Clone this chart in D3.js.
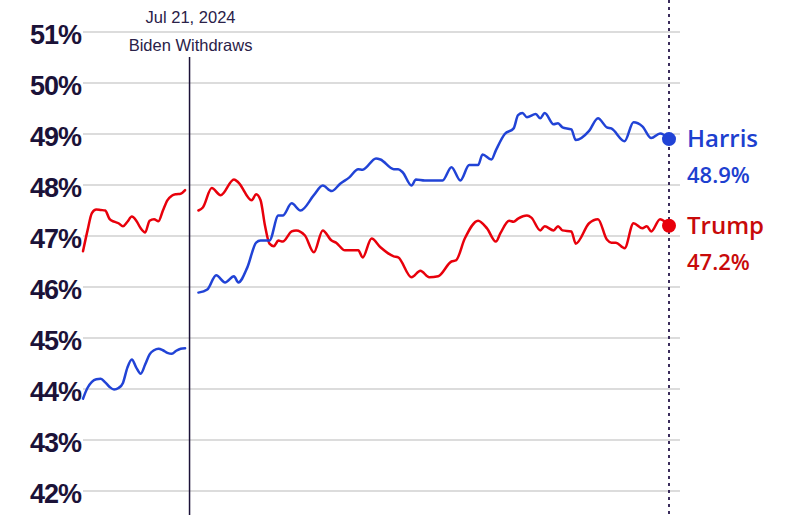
<!DOCTYPE html>
<html>
<head>
<meta charset="utf-8">
<script src="https://cdn.jsdelivr.net/npm/d3@7/dist/d3.min.js"></script>
<style>
  html, body { margin: 0; padding: 0; background: #fff; }
  svg { display: block; }
</style>
</head>
<body>
<svg id="chart" width="790" height="515"></svg>
<script>
// ---------- DATA ----------
const yTicks = [42, 43, 44, 45, 46, 47, 48, 49, 50, 51];
const xDomain = ["2024-06-27", "2024-11-06"];
const eventDate = "2024-07-21";
const eventLabels = ["Jul 21, 2024", "Biden Withdraws"];

// Before withdrawal: daily Jun 27 – Jul 20
const preStart = "2024-06-27";
const bidenPre = [43.81, 44.02, 44.14, 44.19, 44.20, 44.13, 44.04, 43.99, 44.02, 44.12, 44.42, 44.58,
                  44.42, 44.30, 44.48, 44.68, 44.76, 44.79, 44.76, 44.71, 44.69, 44.75, 44.79, 44.80];
const trumpPre = [46.70, 47.10, 47.45, 47.52, 47.51, 47.50, 47.33, 47.28, 47.25, 47.19, 47.28, 47.38,
                  47.30, 47.15, 47.07, 47.30, 47.33, 47.29, 47.50, 47.70, 47.79, 47.82, 47.83, 47.90];

// After withdrawal
const harrisDates = ["2024-07-23","2024-07-25","2024-07-27","2024-07-29","2024-07-31","2024-08-01","2024-08-03",
  "2024-08-05","2024-08-06","2024-08-08","2024-08-10","2024-08-11","2024-08-13","2024-08-15","2024-08-18",
  "2024-08-20","2024-08-22","2024-08-24","2024-08-26","2024-08-28","2024-08-29","2024-09-01","2024-09-02",
  "2024-09-05","2024-09-06","2024-09-07","2024-09-09","2024-09-10","2024-09-12","2024-09-16","2024-09-18",
  "2024-09-20","2024-09-22","2024-09-24","2024-09-25","2024-09-27","2024-09-28","2024-09-30","2024-10-02",
  "2024-10-03","2024-10-04","2024-10-05","2024-10-07","2024-10-08","2024-10-09","2024-10-11","2024-10-12",
  "2024-10-13","2024-10-15","2024-10-16","2024-10-19","2024-10-21","2024-10-23","2024-10-24","2024-10-27",
  "2024-10-29","2024-10-31","2024-11-02","2024-11-04","2024-11-06"];
const harrisValues = [45.89, 45.95, 46.23, 46.09, 46.21, 46.09, 46.38,
  46.87, 46.91, 46.91, 47.40, 47.40, 47.64, 47.50, 47.80,
  47.99, 47.88, 48.03, 48.15, 48.31, 48.30, 48.52, 48.50,
  48.31, 48.31, 48.25, 47.99, 48.11, 48.09, 48.09, 48.35,
  48.09, 48.39, 48.39, 48.60, 48.50, 48.68, 49.00, 49.11,
  49.37, 49.41, 49.33, 49.39, 49.31, 49.41, 49.19, 49.21,
  49.13, 49.09, 48.88, 49.06, 49.31, 49.13, 49.11, 48.86,
  49.23, 49.15, 48.92, 49.01, 48.90];

const trumpDates = ["2024-07-23","2024-07-24","2024-07-26","2024-07-28","2024-07-31","2024-08-01","2024-08-04",
  "2024-08-05","2024-08-06","2024-08-07","2024-08-08","2024-08-09","2024-08-10","2024-08-11","2024-08-13",
  "2024-08-14","2024-08-16","2024-08-18","2024-08-20","2024-08-22","2024-08-23","2024-08-25","2024-08-28",
  "2024-08-29","2024-08-31","2024-09-02","2024-09-05","2024-09-06","2024-09-09","2024-09-11","2024-09-13",
  "2024-09-15","2024-09-18","2024-09-19","2024-09-21","2024-09-24","2024-09-26","2024-09-28","2024-09-29",
  "2024-10-01","2024-10-02","2024-10-03","2024-10-05","2024-10-06","2024-10-08","2024-10-09","2024-10-11",
  "2024-10-12","2024-10-13","2024-10-15","2024-10-16","2024-10-19","2024-10-21","2024-10-23","2024-10-24",
  "2024-10-25","2024-10-27","2024-10-29","2024-10-31","2024-11-01","2024-11-02","2024-11-04","2024-11-06"];
const trumpValues = [47.50, 47.56, 47.94, 47.80, 48.11, 48.05, 47.70,
  47.82, 47.70, 47.20, 46.85, 46.80, 46.91, 46.89, 47.09,
  47.11, 47.01, 46.68, 47.11, 46.91, 46.87, 46.72, 46.72,
  46.58, 46.95, 46.78, 46.60, 46.58, 46.19, 46.32, 46.19,
  46.21, 46.50, 46.52, 46.95, 47.30, 47.15, 46.89, 47.05,
  47.30, 47.28, 47.34, 47.40, 47.36, 47.11, 47.19, 47.11,
  47.19, 47.11, 47.09, 46.85, 47.25, 47.33, 46.93, 46.87,
  46.87, 46.76, 47.25, 47.15, 47.19, 47.09, 47.33, 47.20];

const candidates = ["Harris", "Trump"];
const finalValues = [48.9, 47.2];

// ---------- STYLE ----------
const BLUE = "#2143d6", BLUE_TXT = "#1d40cf";
const RED = "#e8000b", RED_TXT = "#c80a0a";
const NAVY = "#1b1238";

const parse = d3.utcParse("%Y-%m-%d");
const svg = d3.select("#chart");

const x = d3.scaleUtc().domain(xDomain.map(parse)).range([83, 669]);
const y = d3.scaleLinear().domain([42, 51]).range([491, 32]);

// gridlines
svg.append("g").selectAll("line").data(yTicks).join("line")
  .attr("x1", 83).attr("x2", 680)
  .attr("y1", d => y(d)).attr("y2", d => y(d))
  .attr("stroke", "#dcdcdc").attr("stroke-width", 2);

// y axis labels
const yAxis = d3.axisLeft(y).tickValues(yTicks).tickFormat(d => d + "%").tickSize(0).tickPadding(0);
const ga = svg.append("g").attr("transform", "translate(81,0)").call(yAxis);
ga.select(".domain").remove();
ga.selectAll("text")
  .attr("dy", null).attr("y", 11)
  .attr("font-family", "'Liberation Sans', Arial, sans-serif")
  .attr("font-weight", "bold").attr("font-size", 27)
  .attr("letter-spacing", "-1px")
  .attr("fill", NAVY);

// event line
const ex = x(parse(eventDate));
svg.append("line").attr("x1", ex).attr("x2", ex).attr("y1", 57).attr("y2", 515)
  .attr("stroke", NAVY).attr("stroke-width", 1.5);
svg.append("g").selectAll("text").data(eventLabels).join("text")
  .attr("x", ex + 1).attr("y", (d, i) => i === 0 ? 23 : 51)
  .attr("text-anchor", "middle")
  .attr("font-family", "'Liberation Sans', Arial, sans-serif")
  .attr("font-size", 16.5).attr("fill", "#2a2148")
  .text(d => d);

// final date dotted line
const fx = x(parse(xDomain[1]));
svg.append("line").attr("x1", fx).attr("x2", fx).attr("y1", 0).attr("y2", 515)
  .attr("stroke", "#3b2d5c").attr("stroke-width", 2).attr("stroke-dasharray", "3,4");

// series
const line = d3.line().x(d => x(d[0])).y(d => y(d[1])).curve(d3.curveMonotoneX);
const preDates = bidenPre.map((_, i) => d3.utcDay.offset(parse(preStart), i));
const series = [
  { pts: preDates.map((d, i) => [d, trumpPre[i]]), color: RED },
  { pts: preDates.map((d, i) => [d, bidenPre[i]]), color: BLUE },
  { pts: trumpDates.map((d, i) => [parse(d), trumpValues[i]]), color: RED },
  { pts: harrisDates.map((d, i) => [parse(d), harrisValues[i]]), color: BLUE }
];
svg.append("g").selectAll("path").data(series).join("path")
  .attr("d", d => line(d.pts))
  .attr("fill", "none").attr("stroke", d => d.color)
  .attr("stroke-width", 2.5).attr("stroke-linejoin", "round").attr("stroke-linecap", "round");

// end dots & labels
const colors = [BLUE, RED], txtColors = [BLUE_TXT, RED_TXT];
svg.append("g").selectAll("circle").data(finalValues).join("circle")
  .attr("cx", fx).attr("cy", d => y(d)).attr("r", 7)
  .attr("fill", (d, i) => colors[i]);

const lab = svg.append("g").selectAll("g").data(candidates).join("g");
lab.append("text")
  .attr("x", 687).attr("y", (d, i) => y(finalValues[i]) + 8)
  .attr("font-family", "'Open Sans', 'Noto Sans', sans-serif").attr("font-weight", 600)
  .attr("font-size", 24).attr("fill", (d, i) => txtColors[i])
  .text(d => d);
lab.append("text")
  .attr("x", 687).attr("y", (d, i) => y(finalValues[i]) + 44)
  .attr("font-family", "'Open Sans', 'Noto Sans', sans-serif").attr("font-weight", 600)
  .attr("font-size", 22).attr("fill", (d, i) => txtColors[i])
  .text((d, i) => finalValues[i].toFixed(1) + "%");
</script>
</body>
</html>
